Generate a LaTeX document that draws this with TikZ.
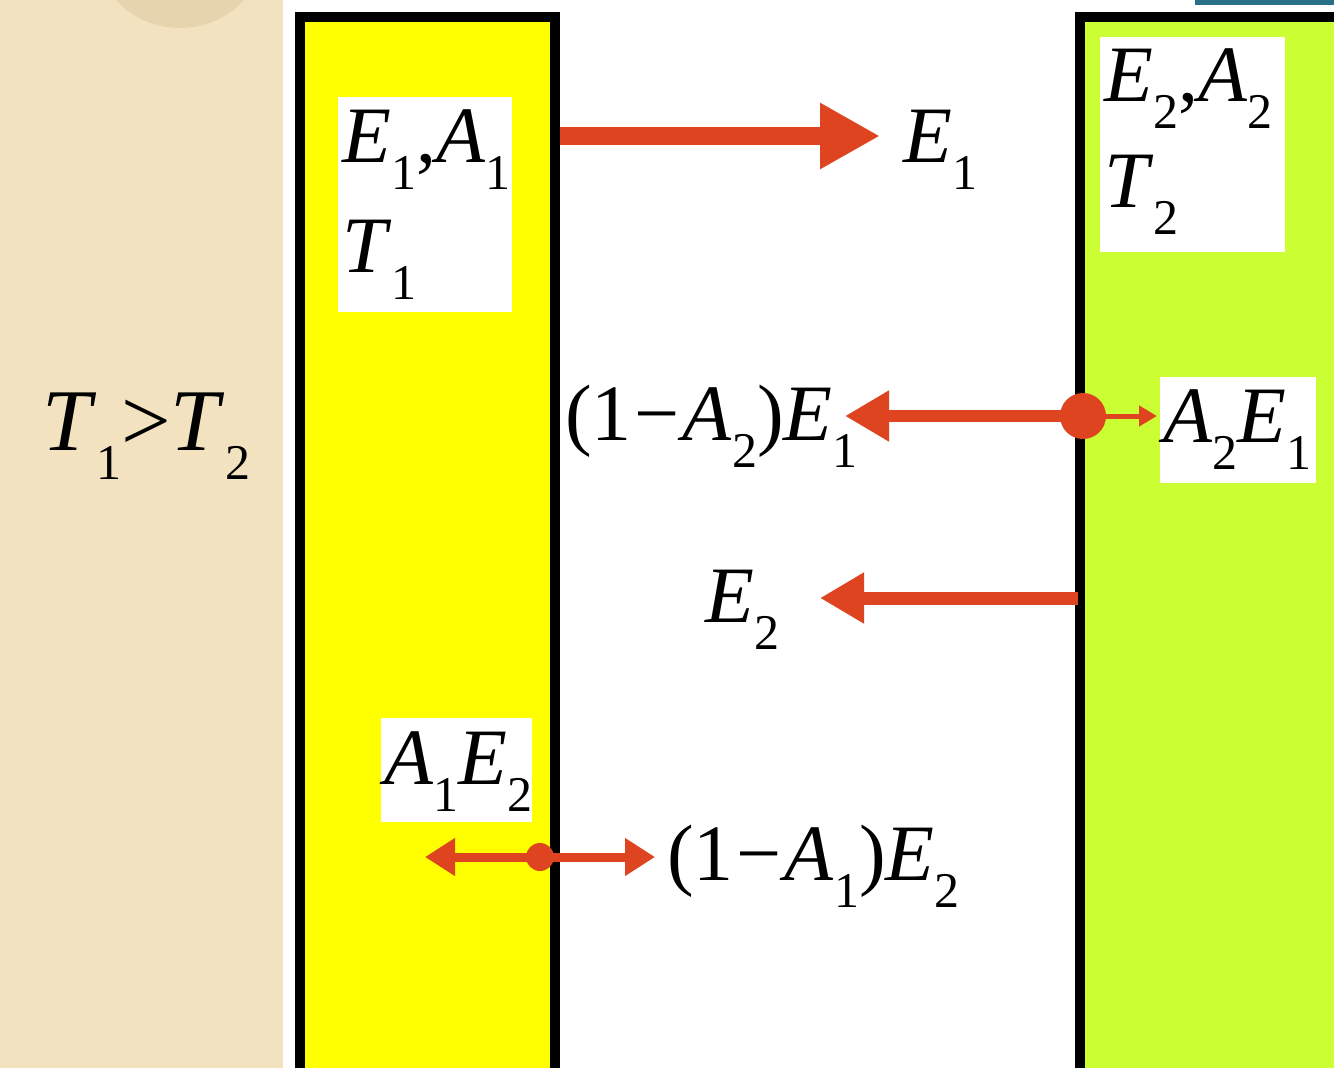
\documentclass[tikz,border=0pt]{standalone}
\usepackage{fontspec}
\setmainfont{Liberation Serif}
\usetikzlibrary{arrows.meta}
\definecolor{beige}{HTML}{F2E2C0}
\definecolor{beigedark}{HTML}{E6D4AE}
\definecolor{panelyellow}{HTML}{FFFF00}
\definecolor{panelgreen}{HTML}{CCFF33}
\definecolor{arrred}{HTML}{DE4420}
\definecolor{topteal}{HTML}{2A6F8A}
\newcommand\Sb[1]{\raisebox{-0.34em}{\fontsize{50}{50}\selectfont #1}}
\newcommand\It[1]{\textit{#1}}
\newcommand\Mn{\kern3pt−\kern3pt}
\begin{document}
\begin{tikzpicture}[x=1pt,y=-1pt,
  lab/.style={anchor=base west, inner sep=0pt, font=\fontsize{80}{90}\selectfont},
  biglab/.style={anchor=base west, inner sep=0pt, font=\fontsize{88}{96}\selectfont},
  wbox/.style={fill=white, draw=none, inner sep=0pt, anchor=north west},
  panel/.style={draw=black, line width=10pt},
  bigarr/.style={draw=arrred, line width=18pt, -{Triangle[length=60pt,width=62pt]}},
  midarr/.style={draw=arrred, line width=12pt, -{Triangle[length=44pt,width=48pt]}},
  thinarr/.style={draw=arrred, line width=5pt, -{Triangle[length=18pt,width=20pt]}},
  smallarr/.style={draw=arrred, line width=9pt, -{Triangle[length=30pt,width=36pt]}},
  dotnode/.style={circle, fill=arrred, inner sep=0pt}]
\useasboundingbox (0,0) rectangle (1334,1068);
% background
\fill[white] (0,0) rectangle (1334,1068);
\fill[beige] (0,0) rectangle (283,1068);
\fill[beigedark] (180,-60) circle (88);
\fill[topteal] (1195,0) rectangle (1334,5);
% panels
\draw[panel, fill=panelyellow] (300,17) rectangle (555,1075);
\draw[panel, fill=panelgreen] (1080,17) rectangle (1350,1075);
% white label boxes
\node[wbox, minimum width=174pt, minimum height=215pt] (b1) at (338,97) {};
\node[wbox, minimum width=185pt, minimum height=215pt] (b2) at (1100,37) {};
\node[wbox, minimum width=156pt, minimum height=106pt] (b3) at (1160,377) {};
\node[wbox, minimum width=151pt, minimum height=104pt] (b4) at (381,718) {};
% labels
\node[lab] (e1a1) at (342,162) {\It{E}\Sb{1},\It{A}\Sb{1}};
\node[lab] (t1) at (342,272) {\It{T}\Sb{1}};
\node[lab] (e2a2) at (1104,101) {\It{E}\Sb{2},\It{A}\Sb{2}};
\node[lab] (t2) at (1104,207) {\It{T}\Sb{2}};
\node[biglab] (cmp) at (42,450) {\It{T}\Sb{1}>\It{T}\Sb{2}};
\node[lab] (e1out) at (903,162) {\It{E}\Sb{1}};
\node[lab] (refl1) at (565,440) {(1\Mn\It{A}\Sb{2})\It{E}\Sb{1}};
\node[lab] (abs2) at (1163,442) {\It{A}\Sb{2}\It{E}\Sb{1}};
\node[lab] (e2out) at (705,622) {\It{E}\Sb{2}};
\node[lab] (abs1) at (384,784) {\It{A}\Sb{1}\It{E}\Sb{2}};
\node[lab] (refl2) at (667,880) {(1\Mn\It{A}\Sb{1})\It{E}\Sb{2}};
% anchor points for arrows
\coordinate (s1) at (560,136);
\coordinate (t1e) at (880,136);
\node[dotnode, minimum size=46pt] (d1) at (1083,416) {};
\coordinate (m1) at (845,416);
\coordinate (m2) at (1157,416);
\coordinate (s2) at (1078,598);
\coordinate (t2e) at (820,598);
\node[dotnode, minimum size=28pt] (d2) at (540,857) {};
\coordinate (l1) at (425,857);
\coordinate (r1) at (655,857);
% arrows
\draw[bigarr] (s1) -- (t1e);
\draw[midarr] (d1.center) -- (m1);
\draw[thinarr] (d1.center) -- (m2);
\draw[midarr, line width=13pt] (s2) -- (t2e);
\draw[smallarr] (d2.center) -- (l1);
\draw[smallarr] (d2.center) -- (r1);
\end{tikzpicture}
\end{document}
